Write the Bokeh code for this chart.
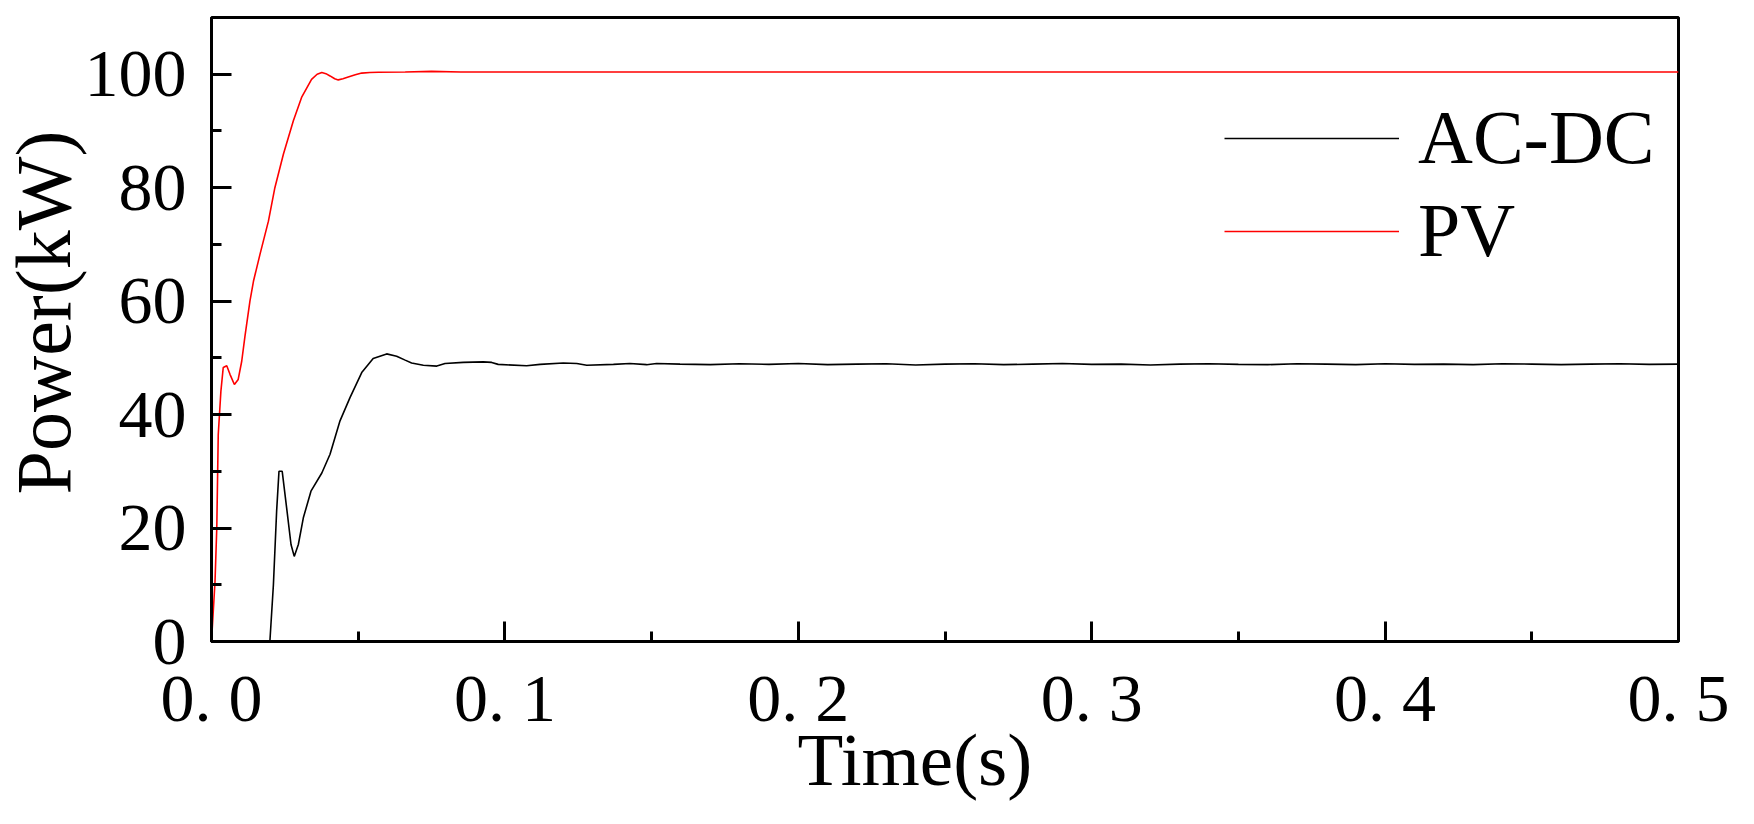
from bokeh.plotting import figure
from bokeh.models import Range1d, FixedTicker, Legend, LegendItem, Title
from bokeh.embed import file_html
from bokeh.resources import INLINE

# ---- data ----
t_pv = [0.0, 0.0012, 0.0018, 0.0023, 0.0032, 0.0040, 0.0052, 0.0063, 0.0078, 0.0091,
        0.0103, 0.0114, 0.0131, 0.0143, 0.0165, 0.0194, 0.0216, 0.0245, 0.0279, 0.0307,
        0.0341, 0.0360, 0.0376, 0.0390, 0.0404, 0.0420, 0.0432, 0.0448, 0.0466, 0.0490,
        0.0512, 0.0540, 0.0569, 0.066, 0.075, 0.085, 0.10, 0.15, 0.20, 0.25, 0.30,
        0.35, 0.40, 0.45, 0.50]
p_pv = [0.0, 10.6, 20.0, 36.5, 44.1, 48.3, 48.6, 47.1, 45.3, 46.2,
        49.4, 53.8, 60.0, 63.5, 68.2, 74.1, 80.0, 85.9, 91.8, 95.9,
        99.1, 100.0, 100.3, 100.1, 99.7, 99.2, 99.0, 99.2, 99.5, 99.9,
        100.2, 100.3, 100.35, 100.4, 100.5, 100.4, 100.4, 100.4, 100.4, 100.4, 100.4,
        100.4, 100.4, 100.4, 100.4]

t_acdc = [0.0, 0.0199, 0.0211, 0.0222, 0.0230, 0.0241, 0.0256, 0.0271, 0.0282, 0.0296,
          0.0313, 0.0339, 0.0376, 0.0404, 0.0438, 0.0472, 0.0512, 0.0551, 0.0597, 0.0631,
          0.0660, 0.0682, 0.0722, 0.0768, 0.0796, 0.0858, 0.0926, 0.0955, 0.0977, 0.1074,
          0.112, 0.1199, 0.1245, 0.1279, 0.137, 0.1426, 0.1483, 0.1517, 0.1597,
          0.17, 0.18, 0.19, 0.20, 0.21, 0.22, 0.23, 0.24, 0.25, 0.26, 0.27, 0.28, 0.29,
          0.30, 0.31, 0.32, 0.33, 0.34, 0.35, 0.36, 0.37, 0.38, 0.39, 0.40, 0.41, 0.42,
          0.43, 0.44, 0.45, 0.46, 0.47, 0.48, 0.49, 0.50]
p_acdc = [0.0, 0.0, 10.0, 23.0, 30.0, 30.0, 23.6, 17.1, 15.0, 17.1,
          21.8, 26.5, 29.7, 33.0, 38.9, 43.0, 47.4, 49.9, 50.7, 50.3,
          49.6, 49.1, 48.7, 48.55, 49.0, 49.2, 49.3, 49.2, 48.85, 48.6,
          48.85, 49.1, 49.0, 48.7, 48.85, 49.0, 48.8, 49.0, 48.9,
          48.8, 48.95, 48.85, 49.0, 48.8, 48.9, 48.95, 48.75, 48.9, 48.95, 48.8, 48.9, 49.0,
          48.85, 48.9, 48.75, 48.9, 48.95, 48.85, 48.8, 48.95, 48.9, 48.8, 48.95, 48.85, 48.9,
          48.8, 48.95, 48.9, 48.8, 48.9, 48.95, 48.85, 48.9]

x_ticks = [0.0, 0.1, 0.2, 0.3, 0.4, 0.5]
x_tick_labels = ["0. 0", "0. 1", "0. 2", "0. 3", "0. 4", "0. 5"]
x_minor = [0.05, 0.15, 0.25, 0.35, 0.45]
y_ticks = [0, 20, 40, 60, 80, 100]
y_minor = [10, 30, 50, 70, 90]
x_title = "Time(s)"
y_title = "Power(kW)"

FONT = "Liberation Serif"

p = figure(width=1738, height=808, output_backend="svg", toolbar_location=None,
           x_range=Range1d(0, 0.5), y_range=Range1d(0, 110),
           min_border_left=211, min_border_right=60, min_border_top=17, min_border_bottom=167)

p.background_fill_color = "white"
p.border_fill_color = "white"
p.outline_line_color = "black"
p.outline_line_width = 3
p.xgrid.visible = False
p.ygrid.visible = False

r_acdc = p.line(t_acdc, p_acdc, line_color="black", line_width=1.6)
r_pv = p.line(t_pv, p_pv, line_color="#ff0000", line_width=1.6)

xa = p.xaxis[0]
xa.ticker = FixedTicker(ticks=x_ticks, minor_ticks=x_minor)
xa.major_label_overrides = {k: v for k, v in zip(x_ticks, x_tick_labels)}
ya = p.yaxis[0]
ya.ticker = FixedTicker(ticks=y_ticks, minor_ticks=y_minor)

for ax in (xa, ya):
    ax.axis_line_width = 3
    ax.axis_line_color = "black"
    ax.major_tick_line_width = 3
    ax.minor_tick_line_width = 3
    ax.major_tick_in = 20
    ax.major_tick_out = 0
    ax.minor_tick_in = 10
    ax.minor_tick_out = 0
    ax.major_label_text_font = FONT
    ax.major_label_text_font_size = "68px"
    ax.major_label_text_color = "black"

xa.major_label_standoff = 18
ya.major_label_standoff = 25

# axis titles as side titles (placed off the frame centre as in the reference)
p.add_layout(Title(text=x_title, align="left", offset=586, standoff=-45,
                   text_font=FONT, text_font_size="75px", text_font_style="normal",
                   text_color="black"), "below")
p.add_layout(Title(text=y_title, align="left", offset=147, standoff=-10,
                   text_font=FONT, text_font_size="78px", text_font_style="normal",
                   text_color="black"), "left")

legend = Legend(items=[LegendItem(label="AC-DC", renderers=[r_acdc]),
                       LegendItem(label="PV", renderers=[r_pv])],
                location=(1013, 367))
legend.label_text_font = FONT
legend.label_text_font_size = "76px"
legend.label_text_color = "black"
legend.glyph_width = 175
legend.glyph_height = 20
legend.label_height = 20
legend.label_standoff = 19
legend.spacing = 6
legend.padding = 0
legend.margin = 0
legend.border_line_color = None
legend.background_fill_alpha = 0
p.add_layout(legend)

open("out.html", "w").write(file_html(p, INLINE))
